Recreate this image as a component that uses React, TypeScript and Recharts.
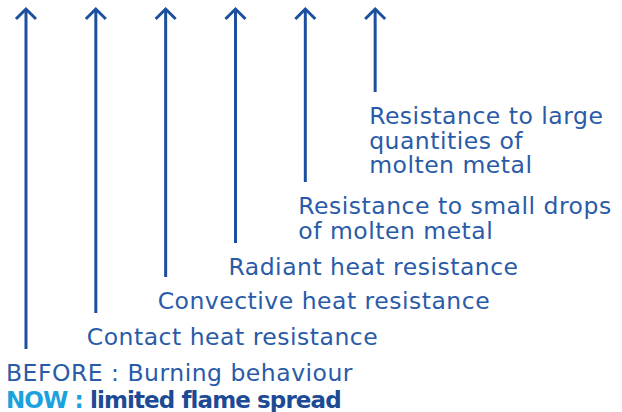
import React from 'react';
import { BarChart, Bar, XAxis, YAxis } from 'recharts';

// Categories (one arrow each), left to right
const categories = ['before', 'contact', 'convective', 'radiant', 'smallDrops', 'largeQuantities'];
// Arrow tip level and arrow foot level (in the chart's vertical units, top = 0)
const arrowTip = [8, 8, 8, 8, 8, 8];
const arrowFoot = [349, 313, 277, 243, 182, 92];
// Caption lines under each arrow
const captionLines: string[][] = [
  ['BEFORE : Burning behaviour', 'NOW : limited flame spread'],
  ['Contact heat resistance'],
  ['Convective heat resistance'],
  ['Radiant heat resistance'],
  ['Resistance to small drops', 'of molten metal'],
  ['Resistance to large', 'quantities of', 'molten metal'],
];

const data = categories.map((key, i) => ({
  key,
  range: [arrowTip[i], arrowFoot[i]],
  lines: captionLines[i],
}));

const LINE_COLOR = '#1c4f9e';
const TEXT_COLOR = '#2a5ba8';
const NOW_COLOR = '#1ba2dd';
const BOLD_COLOR = '#1d4a94';
const FONT = '"DejaVu Sans", sans-serif';
const FONT_SIZE = 23.5;
const LABEL_DX = [-20, -9, -8, -7, -7, -6];

const ArrowShape = (props: any) => {
  const { x, y, width, height, index, payload } = props;
  const cx = x + width / 2;
  const top = Math.min(y, y + height);
  const bottom = Math.max(y, y + height);
  const head = 11;
  const half = 10;
  const lines: string[] = payload.lines;
  const tx = cx + LABEL_DX[index];
  const firstBaseline = bottom + 32;
  return (
    <g>
      <line x1={cx} y1={top + 1} x2={cx} y2={bottom} stroke={LINE_COLOR} strokeWidth={3} />
      <polyline
        points={`${cx - half},${top + head} ${cx},${top + 1} ${cx + half},${top + head}`}
        fill="none"
        stroke={LINE_COLOR}
        strokeWidth={3}
        strokeLinejoin="miter"
      />
      {lines.map((ln, j) => {
        if (ln.startsWith('NOW')) {
          const rest = ln.slice('NOW :'.length);
          return (
            <text
              key={j}
              x={tx}
              y={firstBaseline + 27 * j}
              fontFamily={FONT}
              fontSize={23}
              letterSpacing={-0.9}
              fontWeight="bold"
              fill={BOLD_COLOR}
            >
              <tspan fill={NOW_COLOR}>NOW :</tspan>
              <tspan>{rest}</tspan>
            </text>
          );
        }
        return (
          <text
            key={j}
            x={tx}
            y={firstBaseline + 24.5 * j}
            fontFamily={FONT}
            fontSize={FONT_SIZE}
            letterSpacing={0.5}
            fill={TEXT_COLOR}
          >
            {ln}
          </text>
        );
      })}
    </g>
  );
};

export default function App() {
  return (
    <div style={{ position: 'absolute', left: 0, top: 0, width: 622, height: 412, background: '#fff' }}>
      <BarChart
        width={622}
        height={412}
        data={data}
        margin={{ top: 0, right: 212, bottom: 0, left: -9 }}
        barCategoryGap="10%"
      >
        <XAxis dataKey="key" hide />
        <YAxis type="number" domain={[0, 412]} reversed hide allowDataOverflow />
        <Bar dataKey="range" shape={<ArrowShape />} isAnimationActive={false} />
      </BarChart>
    </div>
  );
}
